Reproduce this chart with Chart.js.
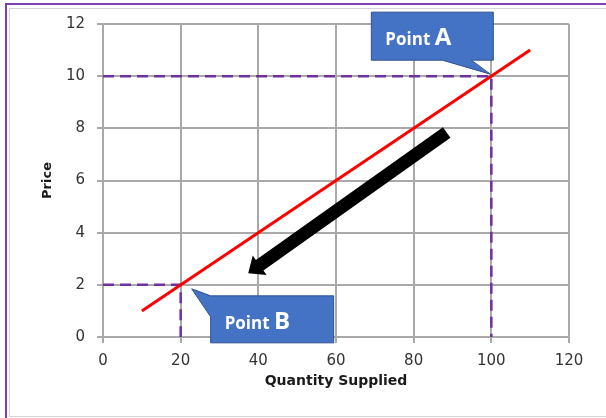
<!DOCTYPE html>
<html>
<head>
<meta charset="utf-8">
<script src="https://cdn.jsdelivr.net/npm/chart.js@4/dist/chart.umd.min.js"></script>
<style>
    html, body { margin: 0; padding: 0; background: #fff; overflow: hidden; }
    #wrap { position: relative; width: 606px; height: 418px; }
    #frame { position: absolute; left: 5px; top: 3px; width: 640px; height: 440px;
             border-left: 2px solid #7b3fb0; border-top: 2px solid #7b3fb0; }
    #inner { position: absolute; left: 9px; top: 8px; width: 640px; height: 407px;
             border: 1px solid #d4d4d4; }
    canvas { position: absolute; left: 0; top: 0; }
</style>
</head>
<body>
<div id="wrap">
    <div id="frame"></div>
    <div id="inner"></div>
    <canvas id="supplyChart" width="606" height="418"></canvas>
</div>
<script>
// Dados da curva de oferta
const supplyQty = [10, 110];
const supplyPrice = [1, 11];

// Pontos marcados (A e B)
const markNames = ['A', 'B'];
const markQty = [100, 20];
const markPrice = [10, 2];

// Seta (de A para B), em coordenadas dos dados
const arrowQty = [88.5, 37.4];
const arrowPrice = [7.84, 2.44];

const xTicks = [0, 20, 40, 60, 80, 100, 120];
const yTicks = [0, 2, 4, 6, 8, 10, 12];

function guideData(i) {
    return [
        { x: 0, y: markPrice[i] },
        { x: markQty[i], y: markPrice[i] },
        { x: markQty[i], y: 0 }
    ];
}

const gridColor = '#a9a9a9';
const tickFont = { family: 'DejaVu Sans', size: 15 };

// Plugin para desenhar a seta e os balões
const annotations = {
    id: 'annotations',
    afterDatasetsDraw(chart) {
        const ctx = chart.ctx;
        const xs = chart.scales.x;
        const ys = chart.scales.y;

        // seta preta
        const x0 = xs.getPixelForValue(arrowQty[0]);
        const y0 = ys.getPixelForValue(arrowPrice[0]);
        const x1 = xs.getPixelForValue(arrowQty[1]);
        const y1 = ys.getPixelForValue(arrowPrice[1]);
        const len = Math.hypot(x1 - x0, y1 - y0);
        const ux = (x1 - x0) / len, uy = (y1 - y0) / len;
        const nx = -uy, ny = ux;
        const sw = 6.5, hw = 12, hl = 14;
        const bx = x1 - ux * hl, by = y1 - uy * hl;
        ctx.save();
        ctx.fillStyle = '#000';
        ctx.beginPath();
        ctx.moveTo(x0 + nx * sw, y0 + ny * sw);
        ctx.lineTo(bx + nx * sw, by + ny * sw);
        ctx.lineTo(bx + nx * hw, by + ny * hw);
        ctx.lineTo(x1, y1);
        ctx.lineTo(bx - nx * hw, by - ny * hw);
        ctx.lineTo(bx - nx * sw, by - ny * sw);
        ctx.lineTo(x0 - nx * sw, y0 - ny * sw);
        ctx.closePath();
        ctx.fill();

        // balões
        const boxes = [
            { left: -120, top: -64, w: 122, h: 48, tail: 'bottom', b1: -49, b2: -20, tx: -1, ty: -2 },
            { left: 30, top: 11, w: 123, h: 47, tail: 'left', b1: 0, b2: 21, tx: 11, ty: 4 }
        ];
        markNames.forEach(function(name, i) {
            const ax = xs.getPixelForValue(markQty[i]);
            const ay = ys.getPixelForValue(markPrice[i]);
            const b = boxes[i];
            const L = ax + b.left, T = ay + b.top, R = L + b.w, B = T + b.h;
            ctx.beginPath();
            if (b.tail === 'bottom') {
                ctx.moveTo(L, T);
                ctx.lineTo(R, T);
                ctx.lineTo(R, B);
                ctx.lineTo(ax + b.b2, B);
                ctx.lineTo(ax + b.tx, ay + b.ty);
                ctx.lineTo(ax + b.b1, B);
                ctx.lineTo(L, B);
            } else {
                ctx.moveTo(L, T + b.b1);
                ctx.lineTo(R, T);
                ctx.lineTo(R, B);
                ctx.lineTo(L, B);
                ctx.lineTo(L, T + b.b2);
                ctx.lineTo(ax + b.tx, ay + b.ty);
            }
            ctx.closePath();
            ctx.fillStyle = '#4472c4';
            ctx.fill();
            ctx.lineWidth = 1;
            ctx.strokeStyle = '#2f528f';
            ctx.stroke();

            ctx.fillStyle = '#fff';
            ctx.textBaseline = 'alphabetic';
            ctx.textAlign = 'left';
            ctx.font = 'bold 17px "Open Sans"';
            const word = 'Point ';
            ctx.fillText(word, L + 14, T + 33);
            const w = ctx.measureText(word).width;
            ctx.font = 'bold 24px "Open Sans"';
            ctx.fillText(name, L + 14 + w, T + 33);
        });
        ctx.restore();
    }
};

document.addEventListener('DOMContentLoaded', function() {
    const ctx = document.getElementById('supplyChart');
    new Chart(ctx.getContext('2d'), {
        type: 'scatter',
        data: {
            datasets: [{
                label: 'Supply',
                data: supplyQty.map(function(q, i) { return { x: q, y: supplyPrice[i] }; }),
                showLine: true,
                borderColor: '#ff0000',
                borderWidth: 3,
                pointRadius: 0
            }, {
                label: 'A',
                data: guideData(0),
                showLine: true,
                borderColor: '#7030a0',
                borderWidth: 2.5,
                borderDash: [11, 6],
                pointRadius: 0
            }, {
                label: 'B',
                data: guideData(1),
                showLine: true,
                borderColor: '#7030a0',
                borderWidth: 2.5,
                borderDash: [11, 6],
                pointRadius: 0
            }]
        },
        options: {
            responsive: false,
            animation: false,
            layout: { padding: { left: 30, right: 37, top: 24, bottom: 20 } },
            plugins: {
                legend: { display: false },
                tooltip: { enabled: false }
            },
            scales: {
                x: {
                    type: 'linear',
                    min: xTicks[0],
                    max: xTicks[xTicks.length - 1],
                    afterFit: function(scale) { scale.height = 61; },
                    afterBuildTicks: function(scale) { scale.ticks = xTicks.map(function(v) { return { value: v }; }); },
                    grid: { color: gridColor, lineWidth: 2, tickLength: 6 },
                    border: { color: gridColor, width: 2 },
                    ticks: { font: tickFont, color: '#333', padding: 9 },
                    title: {
                        display: true,
                        text: 'Quantity Supplied',
                        font: { family: 'DejaVu Sans', size: 14, weight: 'bold' },
                        color: '#1a1a1a',
                        padding: { top: 4, bottom: 8 }
                    }
                },
                y: {
                    type: 'linear',
                    min: yTicks[0],
                    max: yTicks[yTicks.length - 1],
                    afterFit: function(scale) { scale.width = 73; },
                    afterBuildTicks: function(scale) { scale.ticks = yTicks.map(function(v) { return { value: v }; }); },
                    grid: { color: gridColor, lineWidth: 2, tickLength: 6 },
                    border: { color: gridColor, width: 2 },
                    ticks: { font: tickFont, color: '#333', padding: 12 },
                    title: {
                        display: true,
                        text: 'Price',
                        font: { family: 'DejaVu Sans', size: 13, weight: 'bold' },
                        color: '#1a1a1a',
                        padding: { top: 10, bottom: 4 }
                    }
                }
            }
        },
        plugins: [annotations]
    });
});
</script>
</body>
</html>
